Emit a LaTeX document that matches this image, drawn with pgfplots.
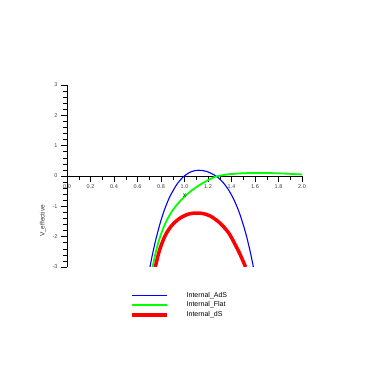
\documentclass[border=0pt]{standalone}
\usepackage{pgfplots}
\pgfplotsset{compat=1.18}
\usepackage{fontspec}
\setmainfont{Liberation Sans}
\definecolor{cads}{RGB}{0,0,255}
\definecolor{cflat}{RGB}{0,255,0}
\definecolor{cds}{RGB}{255,0,0}

\begin{document}
\begin{tikzpicture}
	\useasboundingbox (0,0) rectangle (382pt,382pt);
	\begin{axis}[
			at={(67pt,115pt)}, anchor=south west,
			scale only axis,
			width=235pt, height=182pt,
			xmin=0, xmax=2, ymin=-3, ymax=3,
			axis x line=bottom,
			axis x line shift=-91pt,
			axis y line=left,
			axis line style={-, black, line width=0.6pt},
			xtick={0,0.2,...,2.01},
			ytick={-3,-2,-1,0,1,2,3},
			minor x tick num=1,
			minor y tick num=4,
			tick align=outside,
			major tick length=6pt,
			minor tick length=4pt,
			tick style={black, line width=0.5pt},
			xticklabel style={/pgf/number format/fixed, /pgf/number format/fixed zerofill, /pgf/number format/precision=1, yshift=1pt},
			/pgf/number format/assume math mode=true,
			tick label style={font=\fontsize{5.5}{6}\selectfont, text=black!75},
			ylabel={V\_effective},
			ylabel style={at={(axis description cs:-0.102,0.253)}, anchor=center, font=\fontsize{6.5}{7}\selectfont, text=black!80},
			legend style={draw=none, fill=none, at={(axis description cs:0.268,-0.125)}, anchor=north west,
				font=\fontsize{7}{8}\selectfont, inner sep=0pt, row sep=-0.6pt,
				/tikz/every odd column/.append style={column sep=16pt}},
			legend image post style={xscale=2.05},
			legend cell align=left,
			clip=true,
		]
		\addplot[color=cads, line width=1.1pt, smooth] coordinates {
				(0.706,-3.0) (0.728,-2.572) (0.758,-2.059) (0.798,-1.486) (0.838,-1.025)
				(0.878,-0.66) (0.938,-0.258) (0.998,0.0) (1.058,0.144) (1.118,0.19)
				(1.188,0.151) (1.268,0.0) (1.318,-0.17) (1.368,-0.415) (1.418,-0.759)
				(1.468,-1.225) (1.518,-1.844) (1.558,-2.474) (1.586,-3.0)
			};
		\addlegendentry{Internal\_AdS}
		\addplot[color=cflat, line width=1.8pt, smooth] coordinates {
				(0.729,-3.0) (0.75,-2.6) (0.775,-2.22) (0.80,-1.92) (0.83,-1.62)
				(0.86,-1.38) (0.896,-1.15) (0.935,-0.95) (0.976,-0.77) (1.02,-0.61)
				(1.06,-0.48) (1.10,-0.37) (1.14,-0.27) (1.18,-0.18) (1.22,-0.10)
				(1.26,-0.025) (1.30,0.005) (1.35,0.045) (1.40,0.065) (1.50,0.09)
				(1.60,0.10) (1.70,0.098) (1.80,0.088) (1.90,0.07) (2.00,0.05)
			};
		\addlegendentry{Internal\_Flat}
		\addplot[color=cds, line width=3.5pt, smooth] coordinates {
				(0.752,-3.0) (0.775,-2.62) (0.80,-2.30) (0.84,-1.93) (0.89,-1.64)
				(0.95,-1.42) (1.004,-1.30) (1.05,-1.24) (1.105,-1.22) (1.16,-1.24)
				(1.22,-1.32) (1.28,-1.48) (1.325,-1.64) (1.38,-1.90) (1.43,-2.25)
				(1.475,-2.60) (1.52,-3.0)
			};
		\addlegendentry{Internal\_dS}
		\node[font=\fontsize{7}{8}\selectfont, text=black!80] at (axis cs:1.0,-0.66) {x};
	\end{axis}
\end{tikzpicture}
\end{document}
